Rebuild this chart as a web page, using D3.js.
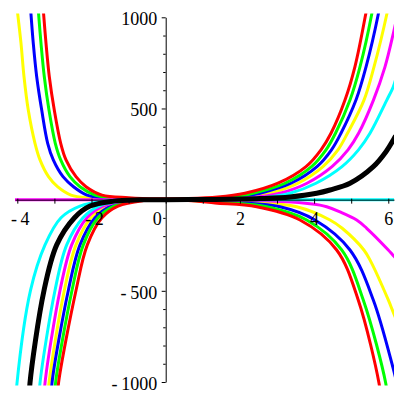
<!DOCTYPE html>
<html>
<head>
<meta charset="utf-8">
<script src="https://cdn.jsdelivr.net/npm/d3@7"></script>
<style>
  html, body { margin: 0; padding: 0; background: #fff; }
  svg { display: block; }
  .tick text { font-family: "Liberation Serif", "Times New Roman", serif; font-size: 18px; fill: #000; }
</style>
</head>
<body>
<svg id="chart" width="400" height="400"></svg>
<script>
// ---- data ----
const xTickValues = [-4, -3, -2, -1, 0, 1, 2, 3, 4, 5, 6];
const xTickLabels = [-4, -2, 0, 2, 4, 6];
const yTickValues = [-1000,-900,-800,-700,-600,-500,-400,-300,-200,-100,100,200,300,400,500,600,700,800,900,1000];
const yTickLabels = [-1000, -500, 500, 1000];

const yellowUp = [[-4.03,1100],[-4.0,1039],[-3.900,857],[-3.819,674],[-3.704,491],[-3.523,309],[-3.388,218],[-3.159,126],[-2.916,71],[-2.553,25],[-2.040,8],[-1.501,2],[0,0],[1.2,1],[2.2,10],[2.811,35],[3.566,90],[4.240,181],[4.644,273],[4.900,364],[5.345,546],[5.615,728],[5.96,1017],[6.04,1100]];
const blueUp = [[-3.66,1100],[-3.639,1039],[-3.569,857],[-3.477,674],[-3.342,491],[-3.181,309],[-3.030,218],[-2.768,126],[-2.485,71],[-2.121,25],[-1.636,8],[-1.097,2],[0,0.5],[1.0,2],[1.9,10],[2.542,35],[3.377,90],[4.078,181],[4.469,273],[4.725,364],[5.129,546],[5.40,728],[5.730,1017],[5.80,1100]];
const greenUp = [[-3.455,1100],[-3.434,1039],[-3.361,857],[-3.272,674],[-3.146,491],[-2.976,309],[-2.830,218],[-2.580,126],[-2.310,71],[-1.906,25],[-1.420,8],[-0.881,2],[0,1],[0.9,3],[1.6,10],[2.353,35],[3.218,90],[3.930,181],[4.321,273],[4.577,364],[4.968,546],[5.237,728],[5.553,1017],[5.62,1100]];
const redUp = [[-3.32,1100],[-3.299,1039],[-3.226,857],[-3.137,674],[-3.003,491],[-2.830,309],[-2.687,218],[-2.418,126],[-2.148,71],[-1.717,25],[-1.0,11],[-0.2,5],[0.6,6],[1.4,14],[2.137,35],[3.027,90],[3.782,181],[4.186,273],[4.456,364],[4.833,546],[5.10,728],[5.391,1017],[5.46,1100]];

const yellowDown = [[-3.17,-1080],[-3.146,-1006],[-2.733,-498],[-2.418,-248],[-2.013,-99],[-1.582,-35],[-0.9,-6],[0,0],[0.9,-3],[2.3,-14],[3.531,-39],[4.429,-111.5],[4.757,-157],[5.342,-276],[5.53,-340],[6.0,-550],[6.119,-610],[6.2,-650]];
const blueDown = [[-3.08,-1080],[-3.065,-1006],[-2.625,-498],[-2.310,-248],[-1.906,-99],[-1.474,-35],[-0.8,-5],[0,0],[0.8,-3],[1.9,-16],[3.081,-39],[4.024,-111.5],[4.968,-276],[5.596,-550],[6.119,-915],[6.2,-980]];
const greenDown = [[-2.99,-1080],[-2.970,-1006],[-2.526,-498],[-2.221,-248],[-1.825,-99],[-1.394,-35],[-0.7,-5],[0,0],[0.7,-4],[1.6,-16],[2.722,-39],[3.801,-111.5],[4.744,-276],[5.326,-550],[5.930,-1006],[5.97,-1080]];
const redDown = [[-2.91,-1080],[-2.889,-1006],[-2.418,-498],[-2.113,-248],[-1.717,-99],[-1.286,-35],[-0.6,-5],[0,0],[0.6,-5],[1.33,-18],[2.453,-39],[3.62,-111.5],[4.609,-276],[5.19,-550],[5.749,-1006],[5.79,-1080]];

const magentaFlatDown = [[-4.2,0],[-3,0],[-1.5,0],[0,0],[1.5,-1],[2.5,-4],[3.3,-12],[4.159,-30],[4.340,-39],[4.698,-67],[5.148,-111.5],[5.418,-157],[6.0,-276],[6.119,-303],[6.2,-320]];
const cyanDownFlat = [[-4.03,-1080],[-4.008,-1006],[-3.644,-498],[-3.253,-248],[-2.822,-99],[-2.310,-35],[-1.6,-8],[-0.8,-1],[0,0],[2,0],[4,0],[6.3,0]];
const magentaOdd = [[-3.27,-1080],[-3.253,-1006],[-2.849,-498],[-2.534,-248],[-2.121,-99],[-1.690,-35],[-1.0,-6],[0,0],[1.0,1.5],[2.3,10],[3.081,35],[3.809,90],[4.483,181],[4.914,273],[5.2,364],[5.6,546],[5.911,728],[6.135,911],[6.2,970]];
const cyanOdd = [[-3.405,-1080],[-3.388,-1006],[-2.984,-498],[-2.668,-248],[-2.229,-99],[-1.798,-35],[-1.1,-6],[0,0],[1.0,1.5],[2.6,10],[3.35,35],[4.051,90],[4.752,181],[5.197,273],[5.507,364],[5.96,546],[6.135,619],[6.2,660]];
const blackOdd = [[-3.67,-1080],[-3.658,-1006],[-3.280,-498],[-2.938,-248],[-2.458,-99],[-2.040,-35],[-1.4,-8],[-0.7,-1],[0,0],[1.0,0.5],[2.0,3],[2.542,6],[3.350,15],[4.070,35],[4.429,53],[4.968,90],[5.596,181],[5.938,263],[6.135,327],[6.2,350]];

const series = [
  {data: yellowUp, color: "#ffff00", width: 3},
  {data: blueUp, color: "#0000ff", width: 3},
  {data: greenUp, color: "#00ff00", width: 3},
  {data: redUp, color: "#ff0000", width: 3},
  {data: yellowDown, color: "#ffff00", width: 3},
  {data: blueDown, color: "#0000ff", width: 3},
  {data: greenDown, color: "#00ff00", width: 3},
  {data: redDown, color: "#ff0000", width: 3},
  {data: magentaFlatDown, color: "#ff00ff", width: 3},
  {data: cyanDownFlat, color: "#00ffff", width: 3},
  {data: magentaOdd, color: "#ff00ff", width: 3},
  {data: cyanOdd, color: "#00ffff", width: 3},
  {data: blackOdd, color: "#000000", width: 5}
];

// ---- layout ----
const svg = d3.select("#chart");
const x = d3.scaleLinear().domain([-4.062, 6.154]).range([15, 394]);
const y = d3.scaleLinear().domain([-1000, 1000]).range([382, 17.3]);

svg.append("defs").append("clipPath").attr("id", "clip")
  .append("rect").attr("x", 15).attr("y", 13.5).attr("width", 379).attr("height", 372);

const fmt = d => d < 0 ? "-\u2009" + Math.abs(d) : String(d);

// curves
const line = d3.line().x(d => x(d[0])).y(d => y(d[1])).curve(d3.curveCatmullRom.alpha(0.5));
const g = svg.append("g").attr("clip-path", "url(#clip)");
series.forEach(s => {
  g.append("path").attr("d", line(s.data))
    .attr("fill", "none").attr("stroke", s.color)
    .attr("stroke-width", s.width).attr("stroke-linejoin", "round");
});

// x axis
const xAxis = d3.axisBottom(x).tickValues(xTickValues).tickSize(4).tickSizeOuter(0)
  .tickFormat(d => xTickLabels.includes(d) ? fmt(d) : "");
const gx = svg.append("g").attr("transform", `translate(0,${y(0)})`).call(xAxis);
gx.select(".domain").attr("stroke", "#000").attr("stroke-width", 1);
gx.selectAll(".tick line").attr("stroke", "#000").attr("y1", -1);
gx.selectAll(".tick text").attr("dy", null).attr("y", 25.5)
  .attr("x", d => d < 0 ? 2.5 : 0);
gx.selectAll(".tick").filter(d => d === 0).select("text")
  .attr("text-anchor", "end").attr("x", -4.5);

// y axis
const yAxis = d3.axisLeft(y).tickValues(yTickValues).tickSize(4).tickSizeOuter(0)
  .tickFormat(d => yTickLabels.includes(d) ? fmt(d) : "");
const gy = svg.append("g").attr("transform", `translate(${x(0)},0)`).call(yAxis);
gy.select(".domain").attr("stroke", "#000").attr("stroke-width", 1);
gy.selectAll(".tick line").attr("stroke", "#000")
  .attr("x2", d => (Math.abs(d) % 500 === 0) ? -4 : -2.5);
gy.selectAll(".tick text").attr("dy", null).attr("y", 7.5).attr("x", -8.5);
</script>
</body>
</html>
